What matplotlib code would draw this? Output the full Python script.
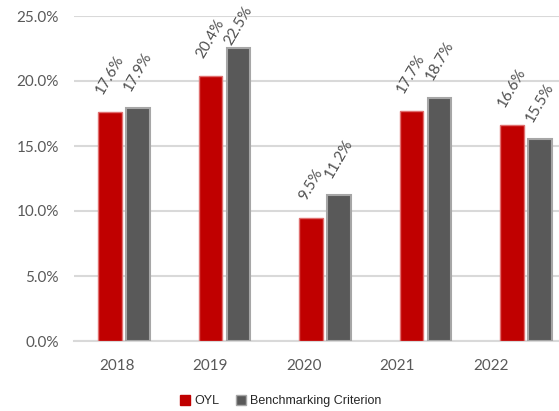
import matplotlib
matplotlib.use("Agg")
import matplotlib.pyplot as plt
import numpy as np
from matplotlib.patches import Patch
from matplotlib import font_manager

years = ["2018", "2019", "2020", "2021", "2022"]
oyl = [17.6, 20.4, 9.5, 17.7, 16.6]
bench = [17.9, 22.5, 11.2, 18.7, 15.5]
yticks = [0, 5, 10, 15, 20, 25]

fig = plt.figure(figsize=(5.59, 4.11), dpi=100)
ax = fig.add_axes([74/559, 1 - 341/411, 1 - 74/559, (341 - 16)/411])

x = np.arange(len(years))
w = 0.235
off = 0.14
red = "#c00000"
gray = "#595959"
b1 = ax.bar(x - off, oyl, w, color=red, edgecolor="#e07070", linewidth=1.0, zorder=3)
b2 = ax.bar(x + off, bench, w, color=gray, edgecolor="#a6a6a6", linewidth=1.5, zorder=3)

lblfont = "Lato"
anns = []
for bars, vals in ((b1, oyl), (b2, bench)):
    for r, v in zip(bars, vals):
        a = ax.annotate(f"{v:.1f}%", (r.get_x() + r.get_width()/2, v),
                        xytext=(0, 11), textcoords="offset points",
                        ha="center", va="bottom", rotation=60,
                        fontsize=11, color="#505050", family=lblfont)
        anns.append(a)

ax.set_xlim(-0.5, 4.33)
ax.set_ylim(0, 25)
ax.set_yticks(yticks)
ax.set_yticklabels([f"{t:.1f}%" for t in yticks])
ax.set_xticks(x * 0.932 - 0.075)
ax.set_xticklabels(years)
ax.yaxis.grid(True, color="#d9d9d9", linewidth=1.5, zorder=0)
ax.set_axisbelow(True)
for s in ("left", "right", "top"):
    ax.spines[s].set_visible(False)
ax.spines["bottom"].set_color("#d9d9d9")
ax.spines["bottom"].set_linewidth(1.5)
ax.tick_params(axis="both", length=0, labelsize=11, labelcolor="#595959")
ax.tick_params(axis="y", pad=11)
ax.tick_params(axis="x", pad=13)
for lab in ax.get_xticklabels() + ax.get_yticklabels():
    lab.set_family(lblfont)

names = {f.name for f in font_manager.fontManager.ttflist}
if "Liberation Sans Narrow" in names:
    lfam, lsize = "Liberation Sans Narrow", 10.5
else:
    lfam, lsize = "Liberation Sans", 9
handles = [Patch(facecolor=red, edgecolor=red), Patch(facecolor=gray, edgecolor="#a6a6a6")]
leg = fig.legend(handles, ["OYL", "Benchmarking Criterion"], loc="center",
                 bbox_to_anchor=(281/559, 1 - 401/411), ncol=2, frameon=False,
                 handlelength=0.8, handleheight=0.8, handletextpad=0.35,
                 columnspacing=1.3,
                 prop={"family": lfam, "size": lsize})
for t in leg.get_texts():
    t.set_color("#262626")

# keep labels inside the figure (like the reference, the tallest label is pulled down)
fig.canvas.draw()
renderer = fig.canvas.get_renderer()
H = fig.bbox.height
for a in anns:
    bb = a.get_window_extent(renderer)
    if bb.y1 > H - 4:
        shift_pt = (bb.y1 - (H - 4)) * 72 / fig.dpi
        xo, yo = a.xyann
        a.xyann = (xo, yo - shift_pt)

fig.savefig("out.png", dpi=100)
